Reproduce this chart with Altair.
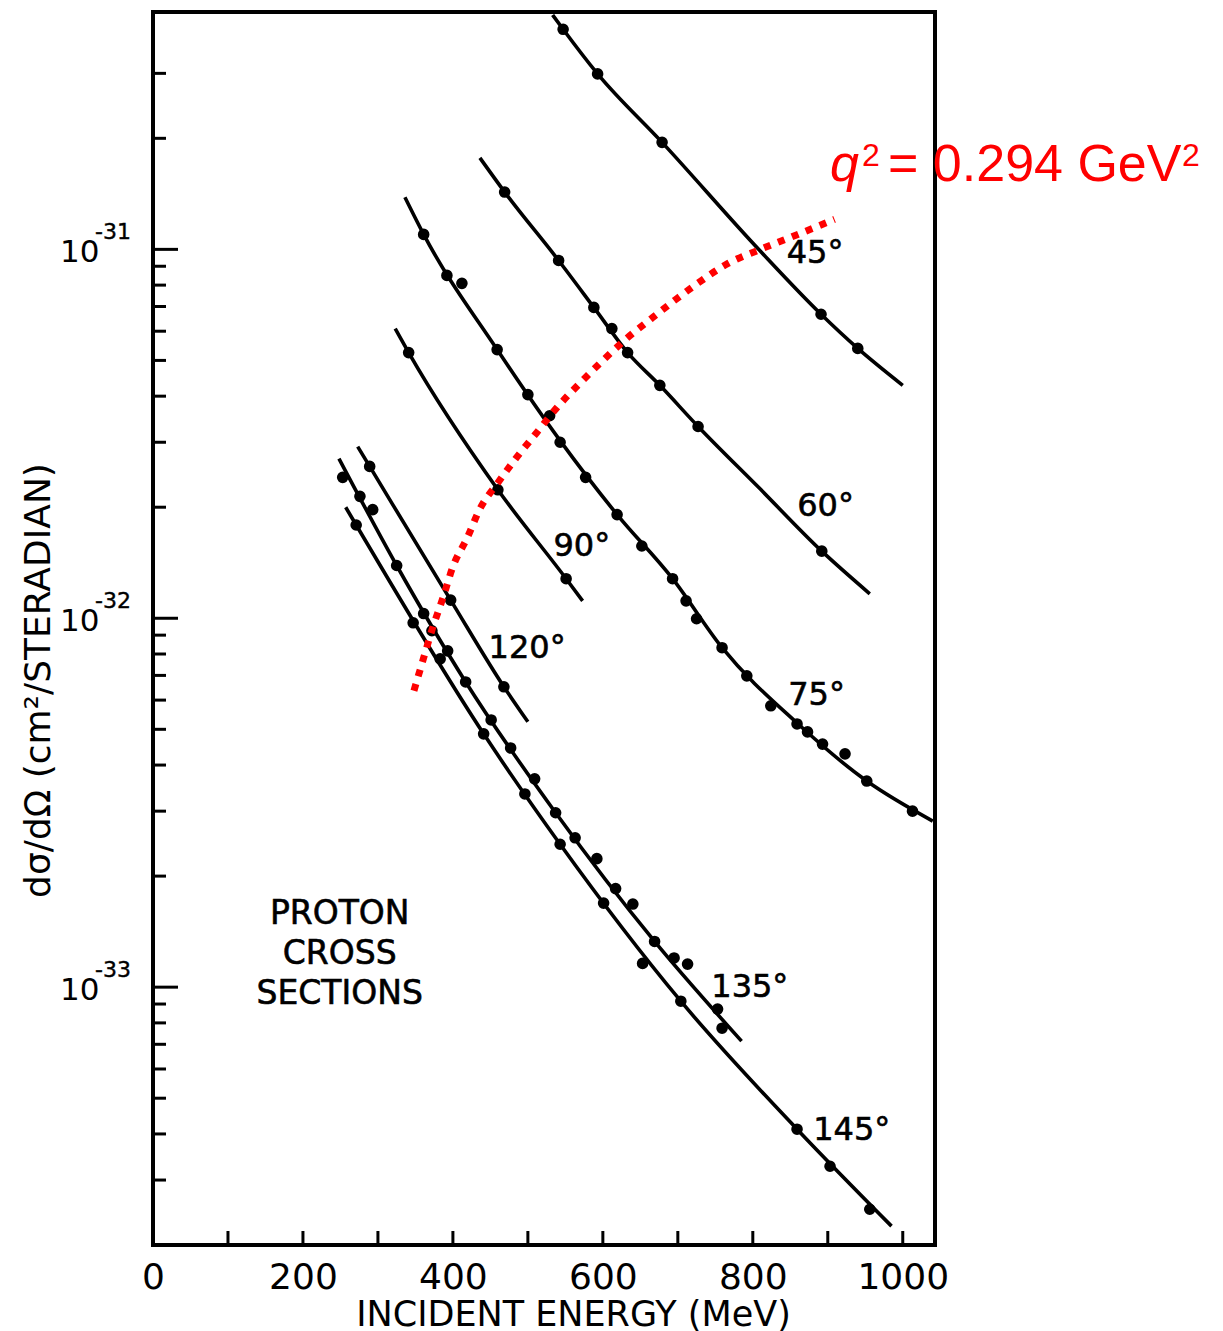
import altair as alt
import pandas as pd

# ---------------- axes ----------------
X_DOMAIN = [0, 1043]
Y_DOMAIN = [2.0e-34, 4.4e-31]
X_LABEL_VALUES = [0, 200, 400, 600, 800, 1000]
X_TICK_VALUES = [100, 200, 300, 400, 500, 600, 700, 800, 900, 1000]
Y_LABEL_VALUES = [1e-31, 1e-32, 1e-33]
Y_LABEL_BASE = "10"
Y_LABEL_EXP = ["-31", "-32", "-33"]
Y_MINOR_TICKS = [3e-31, 2e-31,
                 9e-32, 8e-32, 7e-32, 6e-32, 5e-32, 4e-32, 3e-32, 2e-32,
                 9e-33, 8e-33, 7e-33, 6e-33, 5e-33, 4e-33, 3e-33, 2e-33,
                 9e-34, 8e-34, 7e-34, 6e-34, 5e-34, 4e-34, 3e-34]

# ---------------- measured points (energy MeV, dσ/dΩ cm²/sr) ----------------
E45 = [547, 593, 679, 891, 940]
S45 = [3.95e-31, 2.99e-31, 1.95e-31, 6.67e-32, 5.39e-32]

E60 = [469, 541, 588, 612, 633, 676, 727, 892]
S60 = [1.43e-31, 9.33e-32, 6.96e-32, 6.10e-32, 5.25e-32, 4.28e-32, 3.31e-32, 1.52e-32]

E75 = [361, 392, 412, 459, 500, 529, 543, 577, 619, 652, 693, 711, 725, 759,
       792, 824, 859, 873, 893, 923, 952, 1013]
S75 = [1.098e-31, 8.50e-32, 8.09e-32, 5.35e-32, 4.04e-32, 3.54e-32, 3.00e-32,
       2.41e-32, 1.91e-32, 1.57e-32, 1.28e-32, 1.115e-32, 9.97e-33, 8.32e-33,
       6.98e-33, 5.79e-33, 5.17e-33, 4.92e-33, 4.56e-33, 4.29e-33, 3.62e-33, 3.00e-33]

E90 = [341, 460, 551]
S90 = [5.25e-32, 2.23e-32, 1.28e-32]

E120 = [289, 397, 468]
S120 = [2.58e-32, 1.12e-32, 6.52e-33]

E135 = [253, 276, 293, 325, 361, 372, 393, 417, 451, 477, 509, 537, 563, 592,
        617, 640, 669, 695, 713, 753, 759]
S135 = [2.41e-32, 2.14e-32, 1.97e-32, 1.39e-32, 1.03e-32, 9.25e-33, 8.16e-33,
        6.72e-33, 5.30e-33, 4.45e-33, 3.67e-33, 2.97e-33, 2.54e-33, 2.23e-33,
        1.85e-33, 1.68e-33, 1.33e-33, 1.20e-33, 1.155e-33, 8.72e-34, 7.74e-34]

E145 = [271, 347, 383, 441, 496, 543, 601, 653, 704, 859, 903, 956]
S145 = [1.79e-32, 9.72e-33, 7.76e-33, 4.86e-33, 3.34e-33, 2.44e-33, 1.69e-33,
        1.16e-33, 9.16e-34, 4.12e-34, 3.27e-34, 2.50e-34]

# ---------------- fitted curves ----------------
LE45 = [533, 547, 593, 679, 809, 891, 940, 1000]
LS45 = [4.32e-31, 3.95e-31, 2.99e-31, 1.95e-31, 9.94e-32, 6.67e-32, 5.39e-32, 4.28e-32]

LE60 = [436, 469, 541, 588, 633, 676, 727, 809, 892, 956]
LS60 = [1.77e-31, 1.43e-31, 9.33e-32, 6.96e-32, 5.25e-32, 4.28e-32, 3.31e-32,
        2.25e-32, 1.52e-32, 1.165e-32]

LE75 = [336, 361, 459, 543, 619, 693, 759, 859, 952, 1040]
LS75 = [1.384e-31, 1.098e-31, 5.35e-32, 3.03e-32, 1.91e-32, 1.28e-32, 8.32e-33,
        5.20e-33, 3.62e-33, 2.82e-33]

LE90 = [323, 341, 460, 551, 573]
LS90 = [6.10e-32, 5.25e-32, 2.23e-32, 1.28e-32, 1.115e-32]

LE120 = [273, 289, 397, 468, 500]
LS120 = [2.92e-32, 2.58e-32, 1.12e-32, 6.52e-33, 5.24e-33]

LE135 = [248, 325, 417, 537, 669, 785]
LS135 = [2.71e-32, 1.39e-32, 6.72e-33, 2.97e-33, 1.33e-33, 7.14e-34]

LE145 = [257, 271, 441, 543, 704, 859, 985]
LS145 = [2.00e-32, 1.79e-32, 4.86e-33, 2.44e-33, 9.16e-34, 4.12e-34, 2.25e-34]

# ---------------- constant q² curve ----------------
QE = [348, 361, 373, 387, 400, 419, 436, 460, 485, 512, 539, 569, 600, 632,
      665, 699, 732, 767, 807, 847, 909]
QS = [6.36e-33, 7.81e-33, 9.42e-33, 1.14e-32, 1.38e-32, 1.65e-32, 1.98e-32,
      2.33e-32, 2.73e-32, 3.19e-32, 3.73e-32, 4.33e-32, 5.00e-32, 5.74e-32,
      6.50e-32, 7.36e-32, 8.24e-32, 9.16e-32, 9.94e-32, 1.071e-31, 1.206e-31]

# ---------------- annotations ----------------
ANGLE_LABELS = ["45°", "60°", "75°", "90°", "120°", "135°", "145°"]
ANGLE_LABEL_E = [883, 897, 885, 572, 499, 796, 932]
ANGLE_LABEL_S = [9.8e-32, 2.02e-32, 6.2e-33, 1.57e-32, 8.3e-33, 1.0e-33, 4.1e-34]

BOX_TEXT = "PROTON\nCROSS\nSECTIONS"
BOX_E = [249]
BOX_S = [1.58e-33]

Q_PARTS = ["q", "2", "= 0.294 GeV", "2"]
Q_E = [903]
Q_S = [1.69e-31]

# ---------------- tables ----------------
def tab(e, s, name):
    return pd.DataFrame({"E": e, "S": s, "angle": name})

pts = pd.concat([tab(E45, S45, "45"), tab(E60, S60, "60"), tab(E75, S75, "75"),
                 tab(E90, S90, "90"), tab(E120, S120, "120"),
                 tab(E135, S135, "135"), tab(E145, S145, "145")])
curves = pd.concat([tab(LE45, LS45, "45"), tab(LE60, LS60, "60"), tab(LE75, LS75, "75"),
                    tab(LE90, LS90, "90"), tab(LE120, LS120, "120"),
                    tab(LE135, LS135, "135"), tab(LE145, LS145, "145")])
q2 = pd.DataFrame({"E": QE, "S": QS})
labels = pd.DataFrame({"E": ANGLE_LABEL_E, "S": ANGLE_LABEL_S, "t": ANGLE_LABELS})
box = pd.DataFrame({"E": BOX_E, "S": BOX_S, "t": [BOX_TEXT]})
qtxt = pd.DataFrame({"E": Q_E, "S": Q_S, "a": [Q_PARTS[0]], "b": [Q_PARTS[1]],
                     "c": [Q_PARTS[2]], "d": [Q_PARTS[3]]})
ymaj = pd.DataFrame({"E": [0] * len(Y_LABEL_VALUES), "S": Y_LABEL_VALUES,
                     "exp": Y_LABEL_EXP})
ymin_vals = [v for v in Y_MINOR_TICKS if Y_DOMAIN[0] < v < Y_DOMAIN[1]]
ymin = pd.DataFrame({"E": [0] * len(ymin_vals), "S": ymin_vals})
xtk = pd.DataFrame({"E": X_TICK_VALUES, "S": [Y_DOMAIN[0]] * len(X_TICK_VALUES)})

W, H = 782, 1233
FONT = "DejaVu Sans"
RED = "#ff0000"
xs = alt.Scale(domain=X_DOMAIN, nice=False, zero=False)
ys = alt.Scale(type="log", domain=Y_DOMAIN, nice=False)

x_axis = alt.Axis(values=X_LABEL_VALUES, format="d", title="INCIDENT   ENERGY (MeV)",
                  domain=False, ticks=False, tickSize=0, grid=False, labelFont=FONT,
                  labelFontSize=36, labelColor="black", labelPadding=15, labelFlush=False,
                  titleFont=FONT, titleFontSize=35, titleFontWeight="normal",
                  titleColor="black", titleX=420, titleY=52)
y_axis = alt.Axis(values=Y_LABEL_VALUES, labelExpr=f"'{Y_LABEL_BASE}'",
                  title="dσ/dΩ  (cm²/STERADIAN)", domain=False, ticks=False, tickSize=0,
                  grid=False, labelFont=FONT, labelFontSize=31, labelColor="black",
                  labelPadding=54, labelOffset=3, labelFlush=False, titleFont=FONT,
                  titleFontSize=36, titleFontWeight="normal", titleColor="black",
                  titleAngle=-90, titleBaseline="middle", titleX=-115, titleY=668)

X = alt.X("E:Q", scale=xs, axis=x_axis)
Y = alt.Y("S:Q", scale=ys, axis=y_axis)

lines_layer = alt.Chart(curves).mark_line(color="black", strokeWidth=3.6,
                                          interpolate="monotone", clip=True).encode(
    x=X, y=Y, detail="angle:N")

pts_layer = alt.Chart(pts).mark_circle(size=135, color="black", opacity=1).encode(x=X, y=Y)

q2_layer = alt.Chart(q2).mark_line(color=RED, strokeWidth=7, strokeDash=[7, 8],
                                   strokeCap="butt", interpolate="monotone").encode(x=X, y=Y)

ymaj_layer = alt.Chart(ymaj).mark_rule(color="black", strokeWidth=3).encode(
    y=Y, x=alt.value(0), x2=alt.value(25))
yexp_layer = alt.Chart(ymaj).mark_text(font=FONT, fontSize=22, color="black", align="left",
                                       stroke="black", strokeWidth=0.4,
                                       baseline="middle", dy=-17).encode(
    y=Y, x=alt.value(-58), text="exp:N")
ymin_layer = alt.Chart(ymin).mark_rule(color="black", strokeWidth=3).encode(
    y=Y, x=alt.value(0), x2=alt.value(13))
xtk_layer = alt.Chart(xtk).mark_rule(color="black", strokeWidth=3).encode(
    x=X, y=alt.value(H), y2=alt.value(H - 14))

lab_layer = alt.Chart(labels).mark_text(font=FONT, fontSize=32, color="black",
                                        stroke="black", strokeWidth=0.6,
                                        align="center", baseline="middle").encode(
    x=X, y=Y, text="t:N")

box_layer = alt.Chart(box).mark_text(font=FONT, fontSize=33, color="black", align="center",
                                     stroke="black", strokeWidth=0.6,
                                     baseline="middle", lineBreak="\n", lineHeight=40).encode(
    x=X, y=Y, text="t:N")

qa_layer = alt.Chart(qtxt).mark_text(font="Liberation Sans", fontSize=52, fontStyle="italic",
                                     color=RED, align="left", baseline="middle").encode(
    x=X, y=Y, text="a:N")
qb_layer = alt.Chart(qtxt).mark_text(font="Liberation Sans", fontSize=32, color=RED,
                                     align="left", baseline="middle", dx=32, dy=-9).encode(
    x=X, y=Y, text="b:N")
qc_layer = alt.Chart(qtxt).mark_text(font="Liberation Sans", fontSize=52, color=RED,
                                     align="left", baseline="middle", dx=58).encode(
    x=X, y=Y, text="c:N")
qd_layer = alt.Chart(qtxt).mark_text(font="Liberation Sans", fontSize=32, color=RED,
                                     align="left", baseline="middle", dx=352, dy=-9).encode(
    x=X, y=Y, text="d:N")

chart = alt.layer(lines_layer, pts_layer, ymaj_layer, yexp_layer, ymin_layer, xtk_layer,
                  lab_layer, box_layer, q2_layer, qa_layer, qb_layer, qc_layer,
                  qd_layer).properties(
    width=W, height=H,
    padding={"left": 20, "top": 12, "right": 5, "bottom": 5},
    background="white",
).configure_view(stroke="black", strokeWidth=4)

chart.save("out.html", embed_options={"renderer": "svg", "actions": False})
